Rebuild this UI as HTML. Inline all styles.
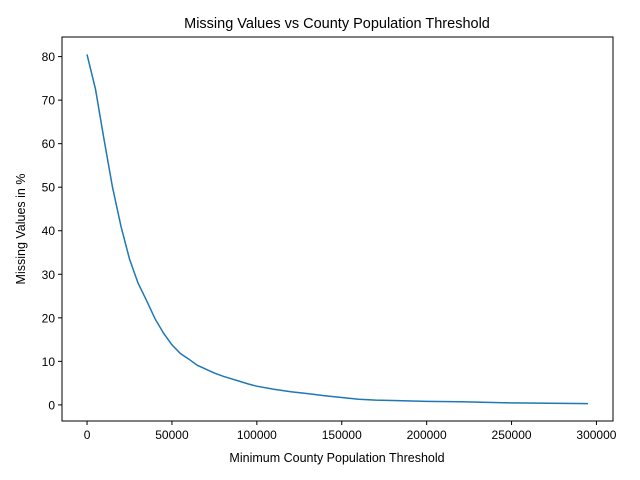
<!DOCTYPE html>
<html><head><meta charset="utf-8"><style>body{margin:0;background:#fff}svg{display:block;font-family:"Liberation Sans","DejaVu Sans",sans-serif}</style></head>
<body>
<svg id="chart" width="640" height="480">
<rect x="0" y="0" width="640" height="480" fill="#fff"/>
<text x="337" y="28" text-anchor="middle" font-size="14.5">Missing Values vs County Population Threshold</text>
<text x="337" y="462" text-anchor="middle" font-size="12.5">Minimum County Population Threshold</text>
<text transform="translate(25,229) rotate(-90)" text-anchor="middle" font-size="12.5">Missing Values in %</text>
<g id="xt"></g>
<g id="yt"></g>
<path id="line" fill="none" stroke="#1f77b4" stroke-width="1.5"/>
<rect x="62" y="37" width="551" height="384" fill="none" stroke="#000" stroke-width="1"/>
</svg>
<script>
const thresholds=[0,5000,10000,15000,20000,25000,30000,35000,40000,45000,50000,55000,60000,65000,70000,75000,80000,85000,90000,95000,100000,110000,120000,130000,140000,150000,160000,170000,180000,200000,220000,250000,295000];
const missingPct=[80.5,72.5,61,50,41,33.5,28,24,19.8,16.5,13.8,11.8,10.5,9.1,8.2,7.3,6.6,6.0,5.4,4.8,4.3,3.6,3.0,2.6,2.1,1.7,1.3,1.1,1.0,0.8,0.7,0.45,0.3];
const xTicks=[0,50000,100000,150000,200000,250000,300000];
const yTicks=[0,10,20,30,40,50,60,70,80];
const L=62,R=613,T=37,B=421;
const xmin=-14750,xmax=309750,ymin=-3.7,ymax=84.5;
const sx=v=>L+(v-xmin)/(xmax-xmin)*(R-L);
const sy=v=>B-(v-ymin)/(ymax-ymin)*(B-T);
const NS="http://www.w3.org/2000/svg";
const xt=document.getElementById('xt'),yt=document.getElementById('yt');
xTicks.forEach(t=>{
 const l=document.createElementNS(NS,'line');
 l.setAttribute('x1',sx(t));l.setAttribute('x2',sx(t));l.setAttribute('y1',B);l.setAttribute('y2',B+4);l.setAttribute('stroke','#000');
 
 
 xt.appendChild(l);
 const s=document.createElementNS(NS,'text');
 s.setAttribute('x',sx(t));s.setAttribute('y',B+18);s.setAttribute('text-anchor','middle');s.setAttribute('font-size','12');s.textContent=t;
 
 
 xt.appendChild(s);
});
yTicks.forEach(t=>{
 const l=document.createElementNS(NS,'line');
 l.setAttribute('x1',L-4);l.setAttribute('x2',L);l.setAttribute('y1',sy(t));l.setAttribute('y2',sy(t));l.setAttribute('stroke','#000');
 
 
 yt.appendChild(l);
 const s=document.createElementNS(NS,'text');
 s.setAttribute('x',L-7);s.setAttribute('y',sy(t)+4.5);s.setAttribute('text-anchor','end');s.setAttribute('font-size','12');s.textContent=t;
 
 
 yt.appendChild(s);
});
document.getElementById('line').setAttribute('d',thresholds.map((x,i)=>(i?'L':'M')+sx(x).toFixed(1)+','+sy(missingPct[i]).toFixed(1)).join(' '));
</script>
</body></html>
